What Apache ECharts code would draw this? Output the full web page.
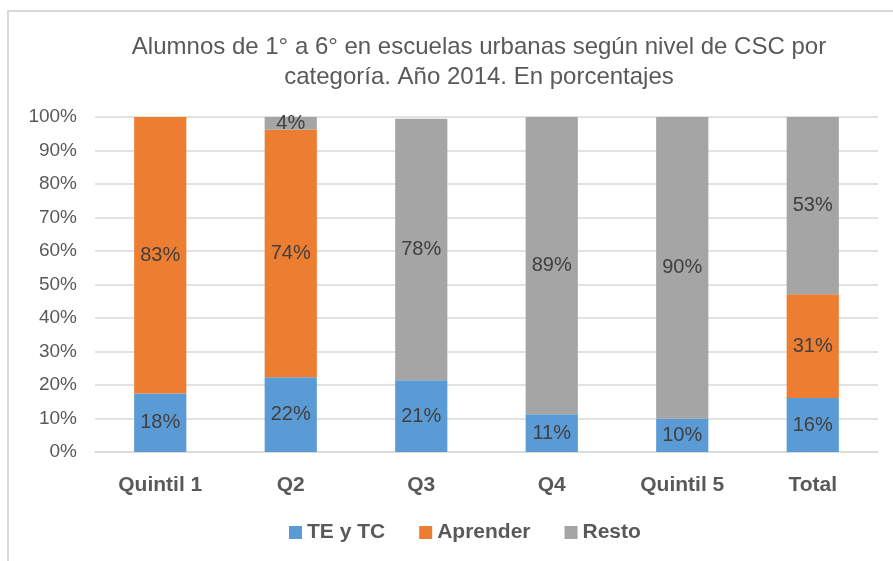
<!DOCTYPE html>
<html>
<head>
<meta charset="utf-8">
<script src="https://cdn.jsdelivr.net/npm/echarts@6/dist/echarts.min.js"></script>
<style>html,body{margin:0;padding:0;background:#fff}#c{width:893px;height:561px}</style>
</head>
<body>
<div id="c"></div>
<script>
var categories = ['Quintil 1', 'Q2', 'Q3', 'Q4', 'Quintil 5', 'Total'];
var teTc = [17.5, 22.3, 21.4, 11.3, 9.9, 16.1];
var aprender = [82.5, 73.9, null, null, null, 31.0];
var resto = [null, 3.8, 78.1, 88.7, 90.1, 52.9];
var yTicks = [0, 10, 20, 30, 40, 50, 60, 70, 80, 90, 100];
var titleText = 'Alumnos de 1° a 6° en escuelas urbanas según nivel de CSC por\ncategoría. Año 2014. En porcentajes';

var FONT = '"Liberation Sans", sans-serif';
function lbl(p) { return p.value == null ? '' : Math.round(p.value) + '%'; }
function mkSeries(name, data, color) {
  return {
    name: name, type: 'bar', stack: 'all', data: data, barWidth: '40%',
    itemStyle: { color: color },
    label: { show: true, position: 'inside', formatter: lbl, color: '#404040', fontSize: 20, fontFamily: FONT }
  };
}
var chart = echarts.init(document.getElementById('c'));
chart.setOption({
  animation: false,
  title: {
    text: titleText, left: 474, top: 27, textAlign: 'center',
    textStyle: { fontFamily: FONT, fontSize: 24, fontWeight: 'normal', color: '#595959', lineHeight: 30 }
  },
  graphic: [{ type: 'rect', shape: { x: 8, y: 11, width: 900, height: 600 }, style: { fill: 'none', stroke: '#d9d9d9', lineWidth: 2 } }],
  legend: {
    bottom: 13, left: 284, itemWidth: 13, itemHeight: 13, itemGap: 34, icon: 'rect',
    textStyle: { fontFamily: FONT, fontSize: 21, fontWeight: 'bold', color: '#595959' },
    data: ['TE y TC', 'Aprender', 'Resto']
  },
  grid: { left: 95, right: 15, top: 117, bottom: 109 },
  xAxis: {
    type: 'category', data: categories,
    axisLine: { lineStyle: { color: '#d9d9d9', width: 1.5 } }, axisTick: { show: false },
    axisLabel: { fontFamily: FONT, fontSize: 21, fontWeight: 'bold', color: '#595959', margin: 23 }
  },
  yAxis: {
    type: 'value', min: 0, max: 100, interval: 10,
    axisLine: { show: false }, axisTick: { show: false },
    splitLine: { lineStyle: { color: '#d9d9d9', width: 1.5 } },
    axisLabel: { fontFamily: FONT, fontSize: 19, color: '#595959', margin: 18,
      formatter: function (v) { return yTicks.indexOf(v) >= 0 ? v + '%' : ''; } }
  },
  series: [
    mkSeries('TE y TC', teTc, '#5b9bd5'),
    mkSeries('Aprender', aprender, '#ed7d31'),
    mkSeries('Resto', resto, '#a5a5a5')
  ]
});
</script>
</body>
</html>
